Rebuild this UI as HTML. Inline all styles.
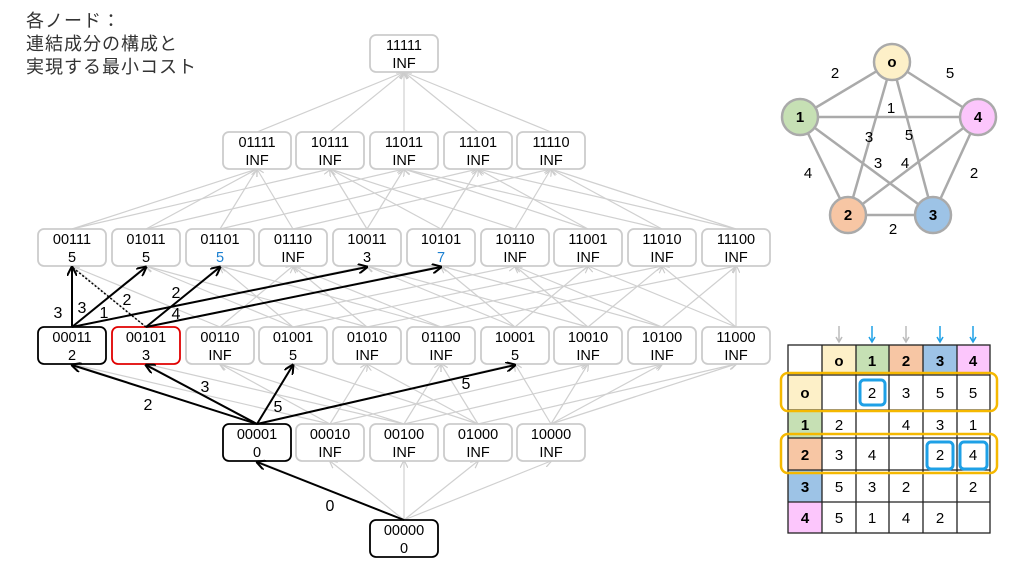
<!DOCTYPE html>
<html><head><meta charset="utf-8"><style>
body{margin:0;width:1024px;height:576px;background:#fff;overflow:hidden;font-family:"Liberation Sans","Noto Sans CJK JP",sans-serif}
#t{position:absolute;left:26px;top:10px;font-size:18px;line-height:23px;color:#333;letter-spacing:1px}
svg{position:absolute;left:0;top:0}
</style></head><body>
<div id="t">各ノード：<br>連結成分の構成と<br>実現する最小コスト</div>
<svg id="s" width="1024" height="576" xmlns="http://www.w3.org/2000/svg" font-family="Liberation Sans, sans-serif">
<defs>
<marker id="ag" markerWidth="8" markerHeight="8" refX="7" refY="4" orient="auto" markerUnits="userSpaceOnUse"><path d="M0,0 L8,4 L0,8" fill="none" stroke="#ccc" stroke-width="1.2"/></marker>
<marker id="ab" markerWidth="10" markerHeight="10" refX="9" refY="5" orient="auto" markerUnits="userSpaceOnUse"><path d="M0,0 L10,5 L0,10" fill="none" stroke="#000" stroke-width="2"/></marker>
</defs>
<g id="gl"></g>
<g id="bx"></g>
<g id="bl" stroke="#000" stroke-width="2" fill="none">
<line x1="404" y1="520" x2="257" y2="462" marker-end="url(#ab)"/>
<line x1="257" y1="424" x2="72" y2="365" marker-end="url(#ab)"/>
<line x1="257" y1="424" x2="146" y2="365" marker-end="url(#ab)"/>
<line x1="257" y1="424" x2="293" y2="365" marker-end="url(#ab)"/>
<line x1="257" y1="424" x2="515" y2="365" marker-end="url(#ab)"/>
<line x1="72" y1="327" x2="72" y2="267" marker-end="url(#ab)"/>
<line x1="72" y1="327" x2="146" y2="267" marker-end="url(#ab)"/>
<line x1="72" y1="327" x2="367" y2="267" marker-end="url(#ab)"/>
<line x1="146" y1="327" x2="72" y2="267" stroke-dasharray="2,2" stroke-width="1.5"/>
<line x1="146" y1="327" x2="220" y2="267" marker-end="url(#ab)"/>
<line x1="146" y1="327" x2="441" y2="267" marker-end="url(#ab)"/>
</g>
<g font-size="16" fill="#000" text-anchor="middle">
<text x="330" y="511">0</text><text x="148" y="410">2</text><text x="205" y="392">3</text><text x="278" y="412">5</text><text x="466" y="389">5</text>
<text x="58" y="318">3</text><text x="82" y="313">3</text><text x="104" y="318">1</text><text x="127" y="305">2</text><text x="176" y="298">2</text><text x="176" y="319">4</text>
</g>
<g id="tx" font-size="14.5" text-anchor="middle" fill="#000">
<text x="404" y="50">11111</text><text x="404" y="68">INF</text>
<text x="257" y="147">01111</text><text x="257" y="165">INF</text>
<text x="330" y="147">10111</text><text x="330" y="165">INF</text>
<text x="404" y="147">11011</text><text x="404" y="165">INF</text>
<text x="478" y="147">11101</text><text x="478" y="165">INF</text>
<text x="551" y="147">11110</text><text x="551" y="165">INF</text>
<text x="72" y="244">00111</text><text x="72" y="262">5</text>
<text x="146" y="244">01011</text><text x="146" y="262">5</text>
<text x="220" y="244">01101</text><text x="220" y="262" fill="#1a7fd0">5</text>
<text x="293" y="244">01110</text><text x="293" y="262">INF</text>
<text x="367" y="244">10011</text><text x="367" y="262">3</text>
<text x="441" y="244">10101</text><text x="441" y="262" fill="#1a7fd0">7</text>
<text x="515" y="244">10110</text><text x="515" y="262">INF</text>
<text x="588" y="244">11001</text><text x="588" y="262">INF</text>
<text x="662" y="244">11010</text><text x="662" y="262">INF</text>
<text x="736" y="244">11100</text><text x="736" y="262">INF</text>
<text x="72" y="342">00011</text><text x="72" y="360">2</text>
<text x="146" y="342">00101</text><text x="146" y="360">3</text>
<text x="220" y="342">00110</text><text x="220" y="360">INF</text>
<text x="293" y="342">01001</text><text x="293" y="360">5</text>
<text x="367" y="342">01010</text><text x="367" y="360">INF</text>
<text x="441" y="342">01100</text><text x="441" y="360">INF</text>
<text x="515" y="342">10001</text><text x="515" y="360">5</text>
<text x="588" y="342">10010</text><text x="588" y="360">INF</text>
<text x="662" y="342">10100</text><text x="662" y="360">INF</text>
<text x="736" y="342">11000</text><text x="736" y="360">INF</text>
<text x="257" y="439">00001</text><text x="257" y="457">0</text>
<text x="330" y="439">00010</text><text x="330" y="457">INF</text>
<text x="404" y="439">00100</text><text x="404" y="457">INF</text>
<text x="478" y="439">01000</text><text x="478" y="457">INF</text>
<text x="551" y="439">10000</text><text x="551" y="457">INF</text>
<text x="404" y="535">00000</text><text x="404" y="553">0</text>
</g>
<g stroke="#aaa" stroke-width="2.5">
<line x1="892" y1="62" x2="800" y2="117"/><line x1="892" y1="62" x2="978" y2="117"/>
<line x1="892" y1="62" x2="848" y2="215"/><line x1="892" y1="62" x2="933" y2="215"/>
<line x1="800" y1="117" x2="978" y2="117"/><line x1="800" y1="117" x2="848" y2="215"/>
<line x1="800" y1="117" x2="933" y2="215"/><line x1="978" y1="117" x2="848" y2="215"/>
<line x1="978" y1="117" x2="933" y2="215"/><line x1="848" y1="215" x2="933" y2="215"/>
</g>
<g stroke="#aaa" stroke-width="2.5">
<circle cx="892" cy="62" r="18" fill="#fdf0c8"/><circle cx="800" cy="117" r="18" fill="#c6e0b4"/>
<circle cx="978" cy="117" r="18" fill="#fcc6fc"/><circle cx="848" cy="215" r="18" fill="#f7c6a4"/>
<circle cx="933" cy="215" r="18" fill="#9dc3e6"/>
</g>
<g font-weight="bold" font-size="15" text-anchor="middle">
<text x="892" y="67">o</text><text x="800" y="122">1</text><text x="978" y="122">4</text><text x="848" y="220">2</text><text x="933" y="220">3</text>
</g>
<g font-size="15" text-anchor="middle">
<text x="835" y="78">2</text><text x="950" y="78">5</text><text x="891" y="113">1</text><text x="869" y="142">3</text><text x="909" y="140">5</text>
<text x="878" y="168">3</text><text x="905" y="168">4</text><text x="808" y="178">4</text><text x="974" y="178">2</text><text x="893" y="234">2</text>
</g>
<g stroke="none">
<rect x="822" y="345" width="34" height="30" fill="#fdf0c8"/><rect x="856" y="345" width="33" height="30" fill="#c6e0b4"/>
<rect x="889" y="345" width="34" height="30" fill="#f7c6a4"/><rect x="923" y="345" width="34" height="30" fill="#9dc3e6"/>
<rect x="957" y="345" width="33" height="30" fill="#fcc6fc"/>
<rect x="788" y="375" width="34" height="35" fill="#fdf0c8"/><rect x="788" y="410" width="34" height="28" fill="#c6e0b4"/>
<rect x="788" y="438" width="34" height="32" fill="#f7c6a4"/><rect x="788" y="470" width="34" height="32" fill="#9dc3e6"/>
<rect x="788" y="502" width="34" height="31" fill="#fcc6fc"/>
</g>
<g stroke="#222" stroke-width="1.3" fill="none">
<rect x="788" y="345" width="202" height="188"/>
<line x1="822" y1="345" x2="822" y2="533"/><line x1="856" y1="345" x2="856" y2="533"/><line x1="889" y1="345" x2="889" y2="533"/>
<line x1="923" y1="345" x2="923" y2="533"/><line x1="957" y1="345" x2="957" y2="533"/>
<line x1="788" y1="375" x2="990" y2="375"/><line x1="788" y1="410" x2="990" y2="410"/><line x1="788" y1="438" x2="990" y2="438"/>
<line x1="788" y1="470" x2="990" y2="470"/><line x1="788" y1="502" x2="990" y2="502"/>
</g>
<g font-weight="bold" font-size="15" text-anchor="middle">
<text x="839" y="366">o</text><text x="872" y="366">1</text><text x="906" y="366">2</text><text x="940" y="366">3</text><text x="973" y="366">4</text>
<text x="805" y="398">o</text><text x="805" y="430">1</text><text x="805" y="460">2</text><text x="805" y="492">3</text><text x="805" y="523">4</text>
</g>
<g font-size="15" text-anchor="middle">
<text x="872" y="398">2</text><text x="906" y="398">3</text><text x="940" y="398">5</text><text x="973" y="398">5</text>
<text x="839" y="430">2</text><text x="906" y="430">4</text><text x="940" y="430">3</text><text x="973" y="430">1</text>
<text x="839" y="460">3</text><text x="872" y="460">4</text><text x="940" y="460">2</text><text x="973" y="460">4</text>
<text x="839" y="492">5</text><text x="872" y="492">3</text><text x="906" y="492">2</text><text x="973" y="492">2</text>
<text x="839" y="523">5</text><text x="872" y="523">1</text><text x="906" y="523">4</text><text x="940" y="523">2</text>
</g>
<g fill="none" stroke="#f5b800" stroke-width="2.5">
<rect x="781" y="373" width="216" height="38" rx="7"/><rect x="781" y="434" width="216" height="39" rx="7"/>
</g>
<g fill="none" stroke="#1ea0e6" stroke-width="3">
<rect x="860" y="380" width="25" height="25" rx="4"/><rect x="927" y="442" width="26" height="27" rx="4"/><rect x="960" y="442" width="27" height="27" rx="4"/>
</g>
<g stroke-width="1.5" fill="none">
<line x1="839" y1="326" x2="839" y2="341" stroke="#bbb"/><path d="M836,337 L839,342 L842,337" stroke="#bbb"/>
<line x1="906" y1="326" x2="906" y2="341" stroke="#bbb"/><path d="M903,337 L906,342 L909,337" stroke="#bbb"/>
<line x1="872" y1="326" x2="872" y2="341" stroke="#1ea0e6"/><path d="M869,337 L872,342 L875,337" stroke="#1ea0e6"/>
<line x1="940" y1="326" x2="940" y2="341" stroke="#1ea0e6"/><path d="M937,337 L940,342 L943,337" stroke="#1ea0e6"/>
<line x1="973" y1="326" x2="973" y2="341" stroke="#1ea0e6"/><path d="M970,337 L973,342 L976,337" stroke="#1ea0e6"/>
</g>
</svg>
<script>
var NS="http://www.w3.org/2000/svg";
var X10=[72,146,220,293,367,441,515,588,662,736],X5=[257,330,404,478,551];
var rows=[
 {y:35,n:["11111"],x:[404]},
 {y:132,n:["01111","10111","11011","11101","11110"],x:X5},
 {y:229,n:["00111","01011","01101","01110","10011","10101","10110","11001","11010","11100"],x:X10},
 {y:327,n:["00011","00101","00110","01001","01010","01100","10001","10010","10100","11000"],x:X10},
 {y:424,n:["00001","00010","00100","01000","10000"],x:X5},
 {y:520,n:["00000"],x:[404]}];
var H=37,W=68,gl=document.getElementById("gl"),bx=document.getElementById("bx");
function el(t,a,p){var e=document.createElementNS(NS,t);for(var k in a)e.setAttribute(k,a[k]);p.appendChild(e);}
function sub(a,b){var d=0;for(var i=0;i<5;i++){if(a[i]=="1"&&b[i]=="0")return false;if(a[i]!=b[i])d++;}return d==1;}
for(var r=1;r<rows.length;r++){var R=rows[r],P=rows[r-1];
 R.n.forEach(function(c,i){P.n.forEach(function(p,j){if(sub(c,p))el("line",{x1:R.x[i],y1:R.y,x2:P.x[j],y2:P.y+H,stroke:"#d0d0d0","stroke-width":1.2,"marker-end":"url(#ag)"},gl);});});}
var dark={"00011":"#000","00001":"#000","00000":"#000","00101":"#e00000"};
rows.forEach(function(R){R.n.forEach(function(c,i){var s=dark[c]||"#ccc";
 el("rect",{x:R.x[i]-W/2,y:R.y,width:W,height:H,rx:6,fill:"#fff",stroke:s,"stroke-width":1.8},bx);});});
</script>
</body></html>
